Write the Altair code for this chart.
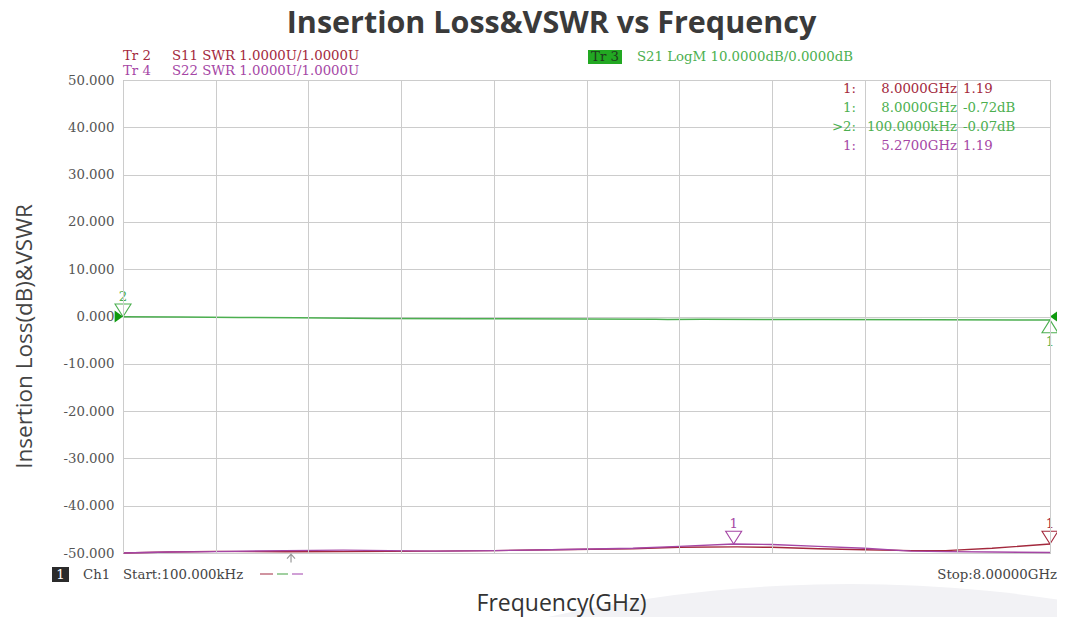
import altair as alt
import pandas as pd

# ---------------- data ----------------
# Tr 2: S11 VSWR
s11_freq = [0.0001, 0.4, 0.8, 1.4, 1.9, 2.7, 3.2, 3.7, 4.4, 4.8, 5.3, 5.6, 6.0, 6.4, 6.8, 7.1, 7.5, 8.0]
s11_swr = [1.00, 1.02, 1.035, 1.025, 1.03, 1.04, 1.05, 1.07, 1.09, 1.12, 1.13, 1.12, 1.09, 1.07, 1.05, 1.05, 1.10, 1.19]
# Tr 4: S22 VSWR
s22_freq = [0.0001, 0.4, 0.8, 1.4, 1.9, 2.7, 3.2, 3.7, 4.4, 4.8, 5.27, 5.6, 6.0, 6.4, 6.8, 7.1, 7.5, 8.0]
s22_swr = [1.00, 1.02, 1.03, 1.05, 1.06, 1.04, 1.05, 1.07, 1.10, 1.14, 1.19, 1.18, 1.14, 1.10, 1.04, 1.03, 1.02, 1.01]
# Tr 3: S21 insertion loss (dB)
s21_freq = [0.0001, 0.5, 1.0, 1.5, 2.2, 3.0, 4.0, 4.6, 4.7, 5.0, 6.0, 7.0, 8.0]
s21_db = [-0.07, -0.12, -0.2, -0.25, -0.4, -0.45, -0.55, -0.6, -0.66, -0.6, -0.65, -0.7, -0.72]

# markers
mk_s11_freq, mk_s11_swr = [8.0], [1.19]
mk_s22_freq, mk_s22_swr = [5.27], [1.19]
mk_s21_down_freq, mk_s21_down_db, mk_s21_down_lbl = [0.0001], [-0.07], ["2"]
mk_s21_up_freq, mk_s21_up_db, mk_s21_up_lbl = [8.0], [-0.72], ["1"]
ref_left_freq, ref_right_freq, ref_level = [0.0001], [8.0], [0.0]
stim_freq = [1.45]

y_ticks = [-50, -40, -30, -20, -10, 0, 10, 20, 30, 40, 50]
x_grid = [0, 0.8, 1.6, 2.4, 3.2, 4.0, 4.8, 5.6, 6.4, 7.2, 8.0]

hdr_s11_tag, hdr_s11 = "Tr 2", "S11 SWR 1.0000U/1.0000U"
hdr_s22_tag, hdr_s22 = "Tr 4", "S22 SWR 1.0000U/1.0000U"
hdr_s21_tag, hdr_s21 = "Tr 3", "S21 LogM 10.0000dB/0.0000dB"
tbl_idx = ["1:", "1:", ">2:", "1:"]
tbl_freq = ["8.0000GHz", "8.0000GHz", "100.0000kHz", "5.2700GHz"]
tbl_val = ["1.19", "-0.72dB", "-0.07dB", "1.19"]
start_txt = "Start:100.000kHz"
stop_txt = "Stop:8.00000GHz"

# ---------------- styling ----------------
C_S11 = "#a3293d"
C_S21 = "#4caf50"
C_S22 = "#a546a5"
C_REF = "#0f9a0f"
MONO = "DejaVu Serif"
SANS = "Open Sans"
FS = 13.3
PX0, PY0 = 123, 80  # plot origin on the page
W, H = 927, 473

xs = alt.Scale(domain=[0, 8], nice=False, zero=False)
ys = alt.Scale(domain=[-50, 50], nice=False)

X = alt.X("f:Q", scale=xs, axis=alt.Axis(
    values=x_grid, grid=True, labels=False, ticks=False, domain=False,
    title="Frequency(GHz)", titleFont=SANS, titleFontSize=23, titleFontWeight="normal",
    titleColor="#333333", titleX=561 - PX0, titleY=610 - (PY0 + H), titleBaseline="alphabetic",
    titleAlign="center", zindex=1))
Y = alt.Y("v:Q", scale=ys, axis=alt.Axis(
    values=y_ticks, grid=True, ticks=False, domain=False,
    labelFont=MONO, labelFontSize=FS, labelColor="#555555", labelPadding=9,
    labelExpr="(datum.value < 0 ? '-' : '') + format(abs(datum.value), '.3f')",
    title="Insertion Loss(dB)&VSWR", titleFont=SANS, titleFontSize=22.5, titleFontWeight="normal",
    titleColor="#444444", titleX=24 - PX0, titleY=336 - PY0, titleAngle=270,
    titleBaseline="middle", titleAlign="center"))

SWR2Y = "-50 + (datum.swr - 1) * 10"

df_s11 = pd.DataFrame({"f": s11_freq, "swr": s11_swr})
df_s22 = pd.DataFrame({"f": s22_freq, "swr": s22_swr})
df_s21 = pd.DataFrame({"f": s21_freq, "v": s21_db})
one = pd.DataFrame({"a": [0]})

TRI_DOWN = "M-1,-1.6L1,-1.6L0,0Z"
TRI_UP = "M-1,1.6L1,1.6L0,0Z"
PTR_RIGHT = "M-1.4,-1L0,0L-1.4,1Z"
PTR_LEFT = "M1.4,-1L0,0L1.4,1Z"
ARROW = "M-1,1.4L0,0.3L1,1.4M0,0.3L0,2.4"


def ann(text, x, y, color, align="left", size=FS, font=MONO, weight="normal"):
    return alt.Chart(one).mark_text(
        text=text, align=align, baseline="middle", font=font, fontSize=size,
        color=color, fontWeight=weight
    ).encode(x=alt.value(x - PX0), y=alt.value(y - PY0))


def box(x1, x2, y1, y2, color):
    return alt.Chart(one).mark_rect(color=color).encode(
        x=alt.value(x1 - PX0), x2=alt.value(x2 - PX0),
        y=alt.value(y1 - PY0), y2=alt.value(y2 - PY0))


def dash(x1, x2, y, color):
    return alt.Chart(one).mark_rule(color=color, strokeWidth=1.5).encode(
        x=alt.value(x1 - PX0), x2=alt.value(x2 - PX0), y=alt.value(y - PY0))


layers = []

# faint watermark arc (bottom right)
R = 1400
layers.append(alt.Chart(one).mark_point(
    shape="circle", filled=True, color="#f2f2f5", opacity=1, size=(2 * R) ** 2
).encode(x=alt.value(850 - PX0), y=alt.value(584 + R - PY0)))

# traces
line_s11 = alt.Chart(df_s11).transform_calculate(v=SWR2Y).mark_line(
    color=C_S11, strokeWidth=1.4).encode(x=X, y=Y)
line_s22 = alt.Chart(df_s22).transform_calculate(v=SWR2Y).mark_line(
    color=C_S22, strokeWidth=1.4).encode(x=X, y=Y)
line_s21 = alt.Chart(df_s21).mark_line(color=C_S21, strokeWidth=1.5).encode(x=X, y=Y)
layers += [line_s11, line_s22, line_s21]

# markers on traces
def tri(freqs, vals, is_swr, color, shape, lbl, dy):
    d = pd.DataFrame({"f": freqs, ("swr" if is_swr else "v"): vals, "t": lbl})
    base = alt.Chart(d)
    if is_swr:
        base = base.transform_calculate(v=SWR2Y)
    pt = base.mark_point(shape=shape, filled=False, color=color, size=256,
                         strokeWidth=1.1, opacity=1).encode(x=X, y=Y)
    tx = base.mark_text(font=MONO, fontSize=FS, color=color, dy=dy,
                        baseline="middle").encode(x=X, y=Y, text="t:N")
    return [pt, tx]

layers += tri(mk_s11_freq, mk_s11_swr, True, C_S11, TRI_DOWN, ["1"], -20)
layers += tri(mk_s22_freq, mk_s22_swr, True, C_S22, TRI_DOWN, ["1"], -20)
layers += tri(mk_s21_down_freq, mk_s21_down_db, False, C_S21, TRI_DOWN, mk_s21_down_lbl, -20)
layers += tri(mk_s21_up_freq, mk_s21_up_db, False, C_S21, TRI_UP, mk_s21_up_lbl, 22)

# reference level pointers
layers.append(alt.Chart(pd.DataFrame({"f": ref_left_freq, "v": ref_level})).mark_point(
    shape=PTR_RIGHT, filled=True, color=C_REF, size=144, opacity=1).encode(x=X, y=Y))
layers.append(alt.Chart(pd.DataFrame({"f": ref_right_freq, "v": ref_level})).mark_point(
    shape=PTR_LEFT, filled=True, color=C_REF, size=144, opacity=1).encode(x=X, y=Y))

# stimulus arrow under axis
layers.append(alt.Chart(pd.DataFrame({"f": stim_freq, "v": [-50]})).mark_point(
    shape=ARROW, filled=False, color="#999999", size=64, strokeWidth=1.2, opacity=1
).encode(x=X, y=Y))

# header annotations
layers.append(ann(hdr_s11_tag, 123, 56, C_S11))
layers.append(ann(hdr_s11, 172, 56, C_S11))
layers.append(ann(hdr_s22_tag, 123, 71, C_S22))
layers.append(ann(hdr_s22, 172, 71, C_S22))
layers.append(box(588, 622, 50, 64, "#22a822"))
layers.append(ann(hdr_s21_tag, 605, 57, "#1f3a1f", align="center"))
layers.append(ann(hdr_s21, 637, 57, C_S21))

# marker table
tbl_colors = [C_S11, C_S21, C_S21, C_S22]
tbl_y = [89, 108, 127, 146]
for i in range(4):
    layers.append(ann(tbl_idx[i], 856, tbl_y[i], tbl_colors[i], align="right"))
    layers.append(ann(tbl_freq[i], 957, tbl_y[i], tbl_colors[i], align="right"))
    layers.append(ann(tbl_val[i], 963, tbl_y[i], tbl_colors[i], align="left"))

# footer
layers.append(box(52, 69, 567, 582, "#2b2b2b"))
layers.append(ann("1", 60.5, 575, "#ffffff", align="center"))
layers.append(ann("Ch1", 83, 575, "#444444"))
layers.append(ann(start_txt, 123, 575, "#444444"))
layers.append(dash(260, 273, 574, "#c07080"))
layers.append(dash(277, 288, 574, "#80c080"))
layers.append(dash(292, 303, 574, "#c080c8"))
layers.append(ann(stop_txt, 1057, 575, "#444444", align="right"))

chart = alt.layer(*layers).properties(
    width=W, height=H,
    title=alt.TitleParams(
        text="Insertion Loss&VSWR vs Frequency", font=SANS, fontSize=30.5,
        fontWeight="bold", color="#3a3a3a", anchor="middle", frame="group",
        dx=-35, offset=0, dy=14, baseline="alphabetic"),
    autosize=alt.AutoSizeParams(type="none"),
    padding={"left": PX0 - 8, "top": PY0 - 8, "right": 1065 - 16 - (PX0 - 8) - W, "bottom": 625 - 16 - (PY0 - 8) - H},
).configure_view(stroke="#9a9a9a", strokeWidth=1).configure_axis(
    gridColor="#cccccc", gridWidth=1)

chart.save("out.html", embed_options={"renderer": "svg", "actions": False})
